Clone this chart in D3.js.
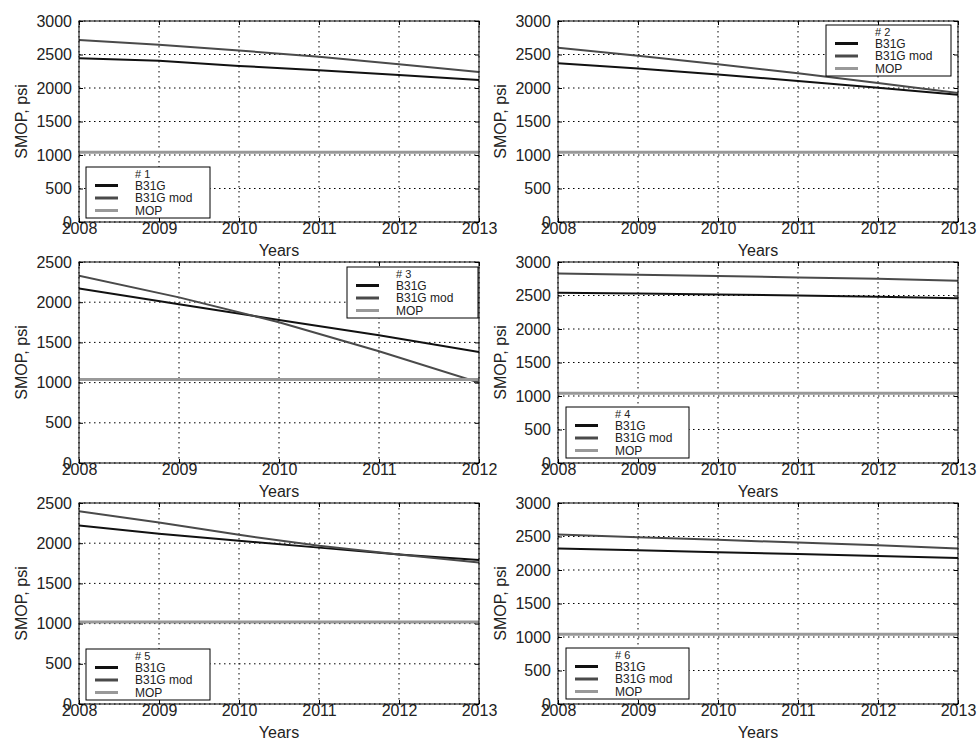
<!DOCTYPE html>
<html>
<head>
<meta charset="utf-8">
<script src="https://cdn.jsdelivr.net/npm/d3@7/dist/d3.min.js"></script>
<style>
  body { margin: 0; background: #fff; }
  svg { font-family: "Liberation Sans", Arial, sans-serif; }
</style>
</head>
<body>
<div id="chart"></div>
<script>
/* data */
const years = [2008, 2009, 2010, 2011, 2012, 2013];
const years3 = [2008, 2009, 2010, 2011, 2012];   // panel 3 stops in 2012
const panelNames = ["# 1", "# 2", "# 3", "# 4", "# 5", "# 6"];
const seriesNames = ["B31G", "B31G mod", "MOP"];
const yMaxes = [3000, 3000, 2500, 3000, 2500, 3000];

const b31g1 = [2445, 2405, 2330, 2265, 2195, 2120];
const mod1  = [2715, 2645, 2560, 2465, 2355, 2240];
const b31g2 = [2370, 2290, 2200, 2105, 2005, 1900];
const mod2  = [2600, 2480, 2355, 2220, 2075, 1925];
const b31g3 = [2170, 1975, 1780, 1590, 1380];
const mod3  = [2330, 2060, 1750, 1390, 1000];
const b31g4 = [2540, 2530, 2515, 2500, 2480, 2460];
const mod4  = [2830, 2810, 2790, 2770, 2750, 2720];
const b31g5 = [2220, 2117, 2030, 1945, 1860, 1790];
const mod5  = [2396, 2258, 2104, 1967, 1860, 1760];
const b31g6 = [2320, 2295, 2265, 2240, 2210, 2180];
const mod6  = [2530, 2490, 2450, 2410, 2370, 2320];
const mopValues = [1040, 1040, 1040, 1040, 1020, 1040];

const panels = [
  { xs: years,  b31g: b31g1, mod: mod1 },
  { xs: years,  b31g: b31g2, mod: mod2 },
  { xs: years3, b31g: b31g3, mod: mod3 },
  { xs: years,  b31g: b31g4, mod: mod4 },
  { xs: years,  b31g: b31g5, mod: mod5 },
  { xs: years,  b31g: b31g6, mod: mod6 }
];

/* layout */
const colX = [79, 558], rowY = [21, 262, 503];
const pw = 400, ph = 201;
// legend box: left, top, width (absolute page coords)
const legendBox = [
  [86, 167, 124], [826, 25, 125], [347, 267, 131],
  [566, 407, 123], [86, 649, 124], [566, 648, 123]
];
const colors = ["#111", "#4a4a4a", "#999"];
const widths = [2, 2, 3];

const svg = d3.select("#chart").append("svg")
  .attr("width", 978).attr("height", 742);

panels.forEach(function(p, i) {
  const left = colX[i % 2], top = rowY[Math.floor(i / 2)];
  const g = svg.append("g").attr("transform", `translate(${left},${top})`);

  const x = d3.scaleLinear().domain(d3.extent(p.xs)).range([0, pw]);
  const y = d3.scaleLinear().domain([0, yMaxes[i]]).range([ph, 0]);
  const yTicks = d3.range(0, yMaxes[i] + 1, 500);

  // dotted grid
  g.append("g").selectAll("line").data(p.xs).enter().append("line")
    .attr("x1", d => x(d)).attr("x2", d => x(d))
    .attr("y1", 0).attr("y2", ph)
    .attr("stroke", "#000").attr("stroke-width", 1)
    .attr("stroke-dasharray", "1.5,3.5");
  g.append("g").selectAll("line").data(yTicks).enter().append("line")
    .attr("y1", d => y(d)).attr("y2", d => y(d))
    .attr("x1", 0).attr("x2", pw)
    .attr("stroke", "#000").attr("stroke-width", 1)
    .attr("stroke-dasharray", "1.5,3.5");

  // clip
  g.append("clipPath").attr("id", "clip" + i)
    .append("rect").attr("width", pw).attr("height", ph);

  const line = d3.line().x(d => x(d[0])).y(d => y(d[1]));
  const series = [
    p.xs.map((d, k) => [d, p.b31g[k]]),
    p.xs.map((d, k) => [d, p.mod[k]]),
    d3.extent(p.xs).map(d => [d, mopValues[i]])
  ];
  series.forEach(function(s, k) {
    g.append("path").datum(s)
      .attr("clip-path", `url(#clip${i})`)
      .attr("fill", "none")
      .attr("stroke", colors[k])
      .attr("stroke-width", widths[k])
      .attr("d", line);
  });

  // axes: ticks inside on all four sides (matplotlib classic look)
  g.append("g").attr("transform", `translate(0,${ph})`)
    .call(d3.axisBottom(x).tickValues(p.xs).tickFormat(d3.format("d")).tickSize(-4).tickPadding(1));
  g.append("g")
    .call(d3.axisTop(x).tickValues(p.xs).tickFormat("").tickSize(-4));
  g.append("g")
    .call(d3.axisLeft(y).tickValues(yTicks).tickFormat(d3.format("d")).tickSize(-4).tickPadding(7));
  g.append("g").attr("transform", `translate(${pw},0)`)
    .call(d3.axisRight(y).tickValues(yTicks).tickFormat("").tickSize(-4));
  g.selectAll(".domain").remove();
  g.selectAll(".tick line").attr("stroke", "#000");
  g.selectAll(".tick text").attr("font-size", 16).attr("fill", "#222")
    .attr("font-family", "'Liberation Sans', Arial, sans-serif");

  g.append("rect").attr("width", pw).attr("height", ph)
    .attr("fill", "none").attr("stroke", "#000").attr("stroke-width", 1);

  // axis titles
  g.append("text").attr("x", pw / 2).attr("y", ph + 34)
    .attr("text-anchor", "middle").attr("font-size", 16).attr("fill", "#222")
    .text("Years");
  g.append("text")
    .attr("transform", `translate(${-52},${ph / 2}) rotate(-90)`)
    .attr("text-anchor", "middle").attr("font-size", 16).attr("fill", "#222")
    .text("SMOP, psi");

  // legend
  const lb = legendBox[i];
  const lg = svg.append("g").attr("transform", `translate(${lb[0]},${lb[1]})`);
  lg.append("rect").attr("width", lb[2]).attr("height", 51)
    .attr("fill", "#fff").attr("stroke", "#000").attr("stroke-width", 1);
  lg.append("text").attr("x", 49).attr("y", 10.5)
    .attr("font-size", 11).attr("fill", "#222").text(panelNames[i]);
  const rowYs = [18.5, 31, 43.5];
  seriesNames.forEach(function(name, k) {
    lg.append("line").attr("x1", 9).attr("x2", 32)
      .attr("y1", rowYs[k]).attr("y2", rowYs[k])
      .attr("stroke", colors[k]).attr("stroke-width", 3);
    lg.append("text").attr("x", 49).attr("y", rowYs[k] + 4)
      .attr("font-size", 12).attr("fill", "#222").text(name);
  });
});
</script>
</body>
</html>
